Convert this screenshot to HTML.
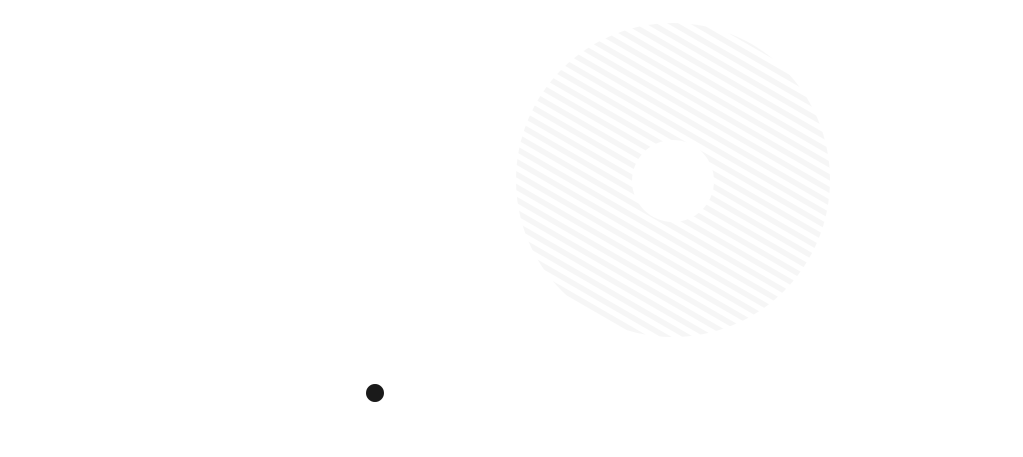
<!DOCTYPE html>
<html><head><meta charset="utf-8"><style>
html,body{margin:0;padding:0;background:#fff;width:1023px;height:457px;overflow:hidden}
</style></head><body>
<svg width="1023" height="457" xmlns="http://www.w3.org/2000/svg">
<defs>
<pattern id="st" patternUnits="userSpaceOnUse" width="11" height="11" patternTransform="rotate(30)">
<rect width="11" height="5.5" fill="#f6f6f6"/>
</pattern>
</defs>
<circle cx="673" cy="180" r="157" fill="url(#st)"/>
<circle cx="673" cy="181" r="41" fill="#fff"/>
<circle cx="375" cy="393" r="9" fill="#1a1a1a"/>
</svg>
</body></html>
